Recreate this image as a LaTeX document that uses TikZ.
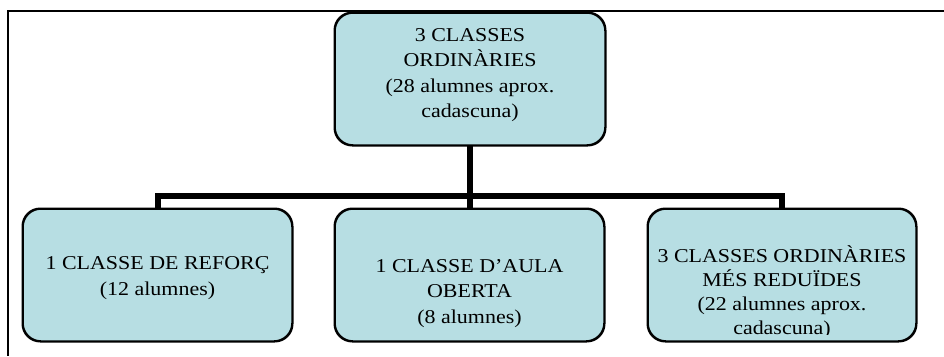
\documentclass[tikz,border=0pt]{standalone}
\usepackage{fontspec}
\setmainfont{Liberation Serif}[FakeStretch=1.12]
\definecolor{boxfill}{RGB}{183,222,227}
\begin{document}
\begin{tikzpicture}[x=1pt,y=-1pt,
  unitbox/.style={draw=black, line width=1.5pt, fill=boxfill, rounded corners=18pt,
    inner sep=0pt},
  boxtext/.style={anchor=base, align=center, inner sep=0pt,
    font=\fontsize{19.6pt}{25.5pt}\selectfont},
  frame/.style={line width=2pt},
  conn/.style={line width=6pt, line join=miter, line cap=butt}]
\useasboundingbox (0,0) rectangle (944,356);

% page frame (top and left edges)
\coordinate (frameTR) at (944,11);
\coordinate (frameTL) at (8,11);
\coordinate (frameBL) at (8,356);
\draw[frame] (frameTR) -- (frameTL) -- (frameBL);

% box outlines
\coordinate (bus) at (0,196);
\node[unitbox, minimum width=270pt, minimum height=132pt] (top)   at (470,79)    {};
\node[unitbox, minimum width=269pt, minimum height=132pt] (left)  at (157.5,275) {};
\node[unitbox, minimum width=269pt, minimum height=132pt] (mid)   at (469.5,275) {};
\node[unitbox, minimum width=268pt, minimum height=132pt] (right) at (782,275)   {};

% connectors
\draw[conn] (top.south) -- (top.south |- bus);
\draw[conn] (left.north) |- (right.north |- bus) -- (right.north);
\draw[conn] (mid.north) -- (mid.north |- bus);

% redraw outlines over the connector ends
\foreach \b in {top,left,mid,right}
  \draw[line width=1.5pt, rounded corners=18pt] (\b.north west) rectangle (\b.south east);

% labels (anchored on the baseline of their last line)
\node[boxtext] (toptext) at (470,117.5)
  {3 CLASSES\\ ORDINÀRIES\\ (28 alumnes aprox.\\ cadascuna)};
\node[boxtext] (lefttext) at (157.5,295)
  {1 CLASSE DE REFORÇ\\ (12 alumnes)};
\node[boxtext] (midtext) at (469.5,323)
  {1 CLASSE D’AULA\\ OBERTA\\ (8 alumnes)};
\begin{scope}
  \clip (right.north west) rectangle ([yshift=7pt]right.south east);
  \node[boxtext, font=\fontsize{19.6pt}{24pt}\selectfont] (righttext) at (782,334)
    {3 CLASSES ORDINÀRIES\\ MÉS REDUÏDES\\ (22 alumnes aprox.\\ cadascuna)};
\end{scope}
\end{tikzpicture}
\end{document}
